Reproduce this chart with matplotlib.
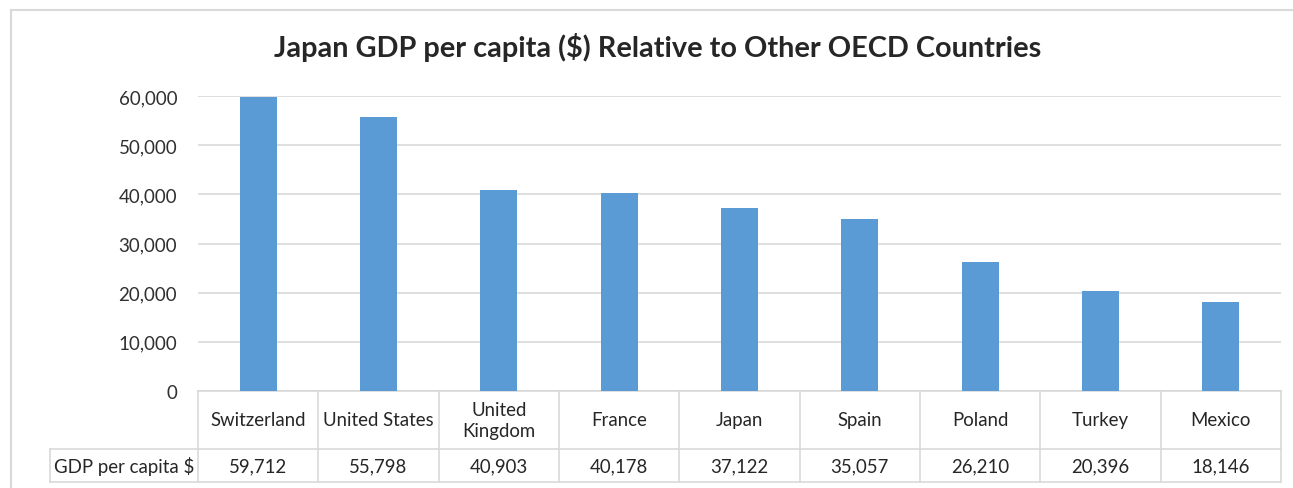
import numpy as np
import matplotlib.pyplot as plt
from matplotlib.lines import Line2D
import matplotlib.transforms as mtransforms

plt.rcParams['font.family'] = ['Lato', 'DejaVu Sans']

countries = ['Switzerland', 'United States', 'United\nKingdom', 'France', 'Japan',
             'Spain', 'Poland', 'Turkey', 'Mexico']
gdp = [59712, 55798, 40903, 40178, 37122, 35057, 26210, 20396, 18146]
row_label = 'GDP per capita $'

W, H = 1293, 489
fig = plt.figure(figsize=(W / 100, H / 100), dpi=100)

# pixel helper -> figure fraction
def fx(px):
    return px / W

def fy(py):
    return 1 - py / H

left, right, top, bottom = 198, 1281, 97, 392
ax = fig.add_axes([fx(left), fy(bottom), fx(right) - fx(left), fy(top) - fy(bottom)])

x = np.arange(len(countries))
ax.bar(x, gdp, width=0.31, color='#5B9BD5', zorder=3)
ax.set_xlim(-0.5, len(countries) - 0.5)
ax.set_ylim(0, 60000)
ax.set_yticks(np.arange(0, 60001, 10000))
ax.set_yticklabels([f'{v:,}' for v in range(0, 60001, 10000)], fontsize=13.5, color='#303030')
ax.tick_params(axis='y', length=0, pad=15)
ax.set_xticks([])
ax.grid(axis='y', color='#D9D9D9', linewidth=1.2, zorder=0)
for s in ['top', 'right', 'left']:
    ax.spines[s].set_visible(False)
ax.spines['bottom'].set_color('#D9D9D9')
ax.spines['bottom'].set_linewidth(1.2)

# data table below axis
trans = mtransforms.blended_transform_factory(ax.transData, ax.transAxes)
ax_h = bottom - top
y_row1 = -(450 - bottom) / ax_h
y_row2 = -(483 - bottom) / ax_h
x_lab = -0.5 - (left - 50) / ((right - left) / len(countries))
lc = '#D9D9D9'
for b in np.arange(-0.5, len(countries), 1.0):
    ax.add_line(Line2D([b, b], [0, y_row2], transform=trans, color=lc, lw=1.2, clip_on=False))
ax.add_line(Line2D([x_lab, len(countries) - 0.5], [y_row1, y_row1], transform=trans, color=lc, lw=1.2, clip_on=False))
ax.add_line(Line2D([x_lab, len(countries) - 0.5], [y_row2, y_row2], transform=trans, color=lc, lw=1.2, clip_on=False))
ax.add_line(Line2D([x_lab, x_lab], [y_row1, y_row2], transform=trans, color=lc, lw=1.2, clip_on=False))

for i, (c, v) in enumerate(zip(countries, gdp)):
    ax.text(i, y_row1 / 2, c, transform=trans, ha='center', va='center',
            fontsize=13.4, color='#262626', linespacing=1.3)
    ax.text(i, (y_row1 + y_row2) / 2, f'{v:,}', transform=trans, ha='center', va='center',
            fontsize=13.4, color='#262626')
ax.text((x_lab - 0.5) / 2, (y_row1 + y_row2) / 2, row_label, transform=trans,
        ha='center', va='center', fontsize=13.4, color='#262626')

fig.text(fx(658), fy(48), 'Japan GDP per capita ($) Relative to Other OECD Countries',
         ha='center', va='center', fontsize=20.8, fontweight='bold', color='#262626')

# chart frame
fig.add_artist(Line2D([fx(11), fx(11)], [fy(11), 0], color='#D9D9D9', lw=1.5))
fig.add_artist(Line2D([fx(11), 1], [fy(11), fy(11)], color='#D9D9D9', lw=1.5))

fig.savefig('out.png', dpi=100, facecolor='white')
